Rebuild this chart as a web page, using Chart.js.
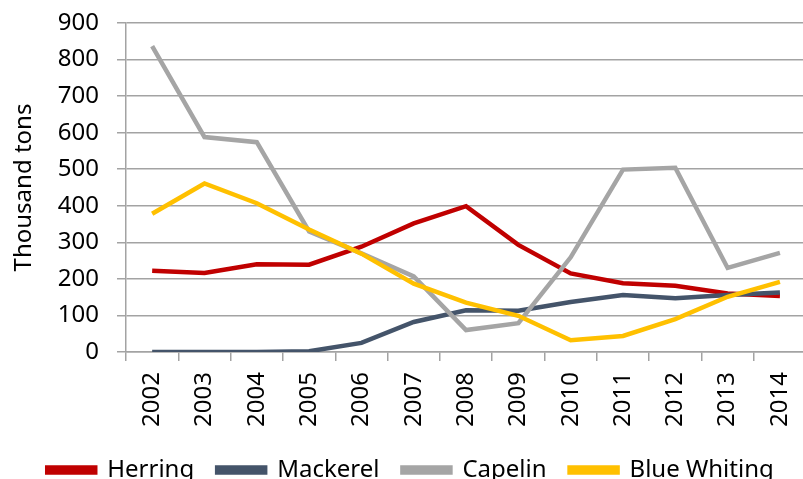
<!DOCTYPE html>
<html>
<head>
<meta charset="utf-8">
<script src="https://cdn.jsdelivr.net/npm/chart.js@4.4.1/dist/chart.umd.min.js"></script>
<style>
  html, body { margin: 0; padding: 0; background: #fff; overflow: hidden; }
  #wrap { width: 820px; height: 492px; }
</style>
</head>
<body>
<div id="wrap"><canvas id="catchChart" width="820" height="492"></canvas></div>
<script>
const years = ['2002', '2003', '2004', '2005', '2006', '2007', '2008', '2009', '2010', '2011', '2012', '2013', '2014'];
const herring = [222, 216, 240, 239, 288, 352, 399, 293, 215, 188, 181, 160, 153];
const mackerel = [0, 0, 0, 2, 25, 82, 114, 113, 137, 156, 147, 156, 163];
const capelin = [837, 588, 574, 330, 270, 207, 60, 79, 259, 499, 504, 230, 271];
const blueWhiting = [378, 461, 407, 335, 269, 187, 135, 99, 32, 44, 90, 151, 192];
const yTicks = [0, 100, 200, 300, 400, 500, 600, 700, 800, 900];

const FONT = '"Noto Sans", "Open Sans", sans-serif';
const GRID = '#a3a3a3';

function series(label, data, color, order) {
  return {
    label,
    data,
    borderColor: color,
    backgroundColor: color,
    borderWidth: 4.5,
    pointRadius: 0,
    tension: 0,
    fill: false,
    order // later series sit on top of earlier ones
  };
}

const ctx = document.getElementById('catchChart').getContext('2d');
new Chart(ctx, {
  type: 'line',
  data: {
    labels: years,
    datasets: [
      series('Herring', herring, '#C00000', 4),
      series('Mackerel', mackerel, '#44546A', 3),
      series('Capelin', capelin, '#A5A5A5', 2),
      series('Blue Whiting', blueWhiting, '#FFC000', 1)
    ]
  },
  options: {
    responsive: false,
    animation: false,
    layout: { padding: { left: 8, right: 7, top: 23, bottom: 0 } },
    plugins: {
      tooltip: { enabled: false },
      legend: {
        position: 'bottom',
        align: 'center',
        labels: {
          sort: (a, b) => a.datasetIndex - b.datasetIndex,
          boxWidth: 48,
          boxHeight: 5,
          padding: 23,
          color: '#000',
          font: { family: FONT, size: 24 }
        }
      }
    },
    scales: {
      x: {
        offset: true,
        grid: {
          offset: true,
          drawOnChartArea: false,
          drawTicks: true,
          tickLength: 9,
          color: GRID,
          lineWidth: 1.5
        },
        border: { display: true, color: GRID, width: 1.5 },
        ticks: {
          minRotation: 90,
          maxRotation: 90,
          padding: 11,
          color: '#000',
          font: { family: FONT, size: 24 }
        },
        afterFit: (scale) => { scale.height = 83; }
      },
      y: {
        min: 0,
        max: 900,
        afterBuildTicks: (scale) => { scale.ticks = yTicks.map(v => ({ value: v })); },
        grid: {
          drawTicks: true,
          tickLength: 9,
          color: GRID,
          lineWidth: 1.5
        },
        border: { display: true, color: GRID, width: 1.5 },
        ticks: {
          padding: 18,
          color: '#000',
          font: { family: FONT, size: 24 }
        },
        title: {
          display: true,
          text: 'Thousand tons',
          color: '#000',
          font: { family: FONT, size: 24 },
          padding: { top: 2, bottom: 6 }
        },
        afterFit: (scale) => {
          // fixed axis width; let the top label hang into the padding
          scale.width = 118;
          scale.paddingTop = 0;
          scale.paddingBottom = 0;
        }
      }
    }
  }
});
</script>
</body>
</html>
